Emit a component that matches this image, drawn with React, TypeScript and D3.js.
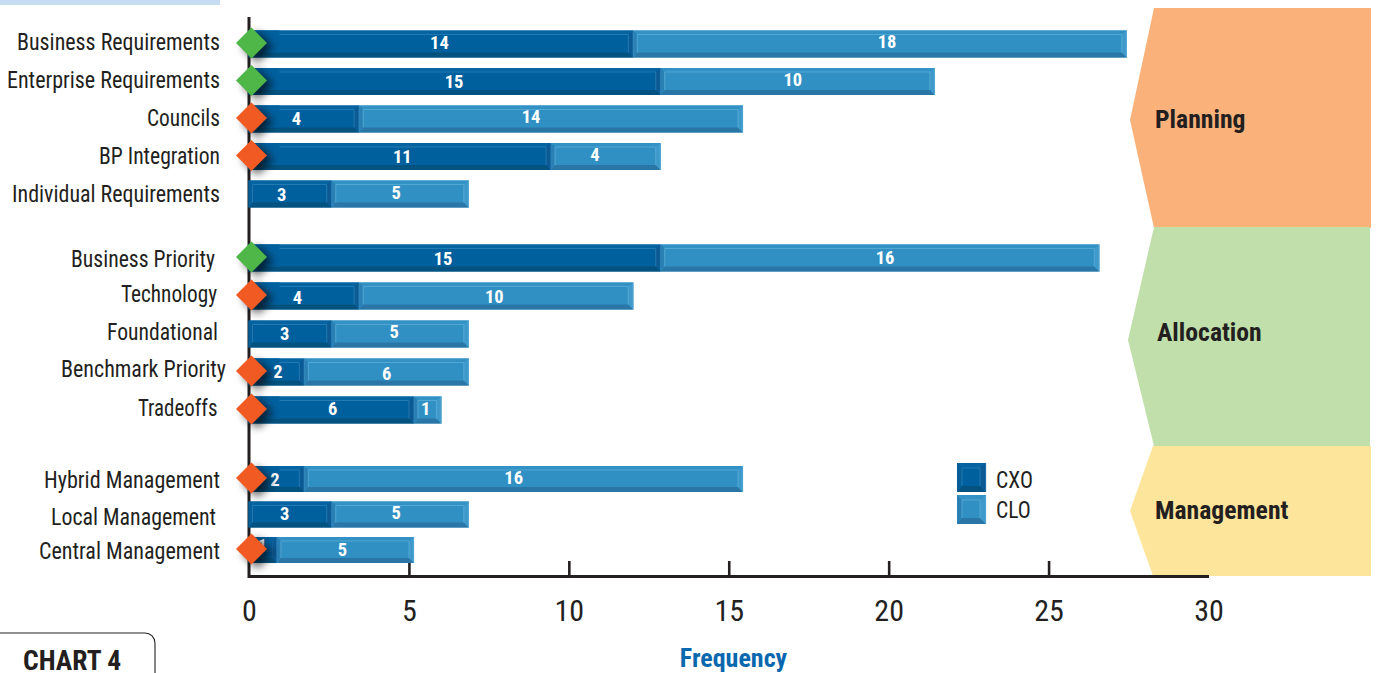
import React from "react";
import * as d3 from "d3";

const categories = [
  "Business Requirements", "Enterprise Requirements", "Councils", "BP Integration", "Individual Requirements",
  "Business Priority", "Technology", "Foundational", "Benchmark Priority", "Tradeoffs",
  "Hybrid Management", "Local Management", "Central Management",
];
const cxoValues = [14, 15, 4, 11, 3, 15, 4, 3, 2, 6, 2, 3, 1];
const cloValues = [18, 10, 14, 4, 5, 16, 10, 5, 6, 1, 16, 5, 5];
// g = green marker, o = orange marker, "" = no marker
const markers = ["g", "g", "o", "o", "", "g", "o", "", "o", "o", "o", "", "o"];
const axisTicks = [0, 5, 10, 15, 20, 25, 30];
const stageNames = ["Planning", "Allocation", "Management"];

// Hand placement of text, in pixels, kept apart from the values.
const categoryEnd = [220, 220, 220, 220, 220, 215, 217, 218, 226, 217.5, 220, 216, 220];
const categoryWidth = [203, 213, 73, 121, 208, 144, 96, 111, 165, 79.5, 176, 165, 181];
const categoryBaseline = [50, 88, 126, 164, 202, 267, 302, 340, 377, 416, 488, 525, 559];
const cxoLabelShift = [-2, -1, -8, 2, -9, -12, -7, -6, 1, 1, -2, -6, -1];
const cloLabelShift = [7, -5, -20, -11, -4, 5, -2, -6, 0, -2, -10, -4, -3];
const cxoLabelDy = [-1.5, -0.5, -1, -0.5, 0, 0, 1, -1, -1, -2, 0, -1.5, -5];
const cloLabelDy = [-3, -2.5, -3, -2.5, -2, -1, 0, -3, 1, -2, -2, -2.5, -1];

const narrow = "'Liberation Sans Narrow', 'Roboto Condensed', 'Liberation Sans', sans-serif";
const INK = "#231f20";

const CXO = { face: "#00609e", top: "#0664a2", bottom: "#04527f", left: "#075f9a", right: "#0c5a94", line: "#2a80b6" };
const CLO = { face: "#3090c4", top: "#3291c5", bottom: "#2a76a6", left: "#2a80b4", right: "#3f9acb", line: "#5badd7" };

const MARKER_FILL: Record<string, string> = { g: "#4fb648", o: "#f15a22" };

// The axis reads 0–30 while bar lengths run on a 0–35 span across the same pixels.
const axisX = d3.scaleLinear().domain([0, 30]).range([249.5, 1209]);
const barX = d3.scaleLinear().domain([0, 35]).range([249.5, 1209]);
const rowY = d3.scaleLinear().domain([0, 4, 5, 9, 10, 12]).range([44, 194, 258, 410, 479, 550]);

const pts = (p: number[][]) => p.map((q) => q.join(",")).join(" ");

type Tone = typeof CXO;

function Bevel({ x0, x1, y0, y1, tone, b = 5 }: { x0: number; x1: number; y0: number; y1: number; tone: Tone; b?: number }) {
  const t = y0 + b - 1;
  const u = y1 - b;
  const l = x0 + b - 1;
  const r = x1 - b;
  const rim = d3.line()([[l, u], [l, t], [r, t], [r, u]]) ?? "";
  return (
    <g>
      <rect x={x0} y={y0} width={x1 - x0} height={y1 - y0} fill={tone.face} />
      <polygon points={pts([[x0, y0], [x1, y0], [r, t], [l, t]])} fill={tone.top} />
      <polygon points={pts([[x0, y1], [x1, y1], [r, u], [l, u]])} fill={tone.bottom} />
      <polygon points={pts([[x0, y0], [l, t], [l, u], [x0, y1]])} fill={tone.left} />
      <polygon points={pts([[x1, y0], [r, t], [r, u], [x1, y1]])} fill={tone.right} />
      <path d={rim} fill="none" stroke={tone.line} strokeWidth={0.8} />
      <line x1={x1 - 0.3} x2={x1 - 0.3} y1={y0} y2={y1} stroke={tone.line} strokeWidth={0.7} />
    </g>
  );
}

const stagePolys = [
  { tip: [1130, 120], top: 8, bottom: 228, neck: 1154, right: 1371, fill: "#fab27a", tx: 1155, ty: 128 },
  { tip: [1128, 340], top: 227, bottom: 446, neck: 1154, right: 1370, fill: "#c1dfaa", tx: 1157, ty: 341 },
  { tip: [1130, 511], top: 446, bottom: 576, neck: 1153, right: 1371, fill: "#fee59c", tx: 1155, ty: 519 },
];

export default function App() {
  const stacked = d3.stack<number>()
    .keys(["cxo", "clo"])
    .value((i, key) => (key === "cxo" ? cxoValues[i] : cloValues[i]))(categories.map((_, i) => i));

  return (
    <svg width={1379} height={673} style={{ position: "fixed", left: 0, top: 0, background: "#fff" }}>
      <defs>
        <filter id="markerShadow" x="-80%" y="-80%" width="260%" height="260%">
          <feGaussianBlur stdDeviation={4} />
        </filter>
      </defs>

      <rect x={0} y={0} width={220} height={5} fill="#c5dcf3" />

      {stagePolys.map((s, i) => (
        <g key={stageNames[i]}>
          <polygon
            points={pts([[s.neck, s.top], [s.right, s.top], [s.right, s.bottom], [s.neck, s.bottom], s.tip])}
            fill={s.fill}
          />
          <text x={s.tx} y={s.ty} fontFamily={narrow} fontWeight={700} fontSize={25.7} fill={INK}>{stageNames[i]}</text>
        </g>
      ))}

      {/* value axis, drawn upward from the baseline */}
      <line x1={249} x2={249} y1={17} y2={578} stroke={INK} strokeWidth={3} />
      <line x1={248} x2={1209} y1={576.5} y2={576.5} stroke={INK} strokeWidth={3.2} />
      {axisTicks.map((t) => (
        <g key={t}>
          {t > 0 && t < 30 && (
            <line x1={axisX(t)} x2={axisX(t)} y1={561} y2={577} stroke={INK} strokeWidth={2.6} />
          )}
          <text x={axisX(t)} y={621} textAnchor="middle" fontFamily={narrow} fontSize={30} fill={INK}>{t}</text>
        </g>
      ))}

      {categories.map((c, i) => {
        const h = i >= 10 ? 26 : 27;
        const y0 = rowY(i) - h / 2;
        const y1 = y0 + h;
        const [a0, a1] = stacked[0][i];
        const [b0, b1] = stacked[1][i];
        const start = barX(a0) - 1;
        return (
          <g key={c}>
            <text
              x={categoryEnd[i] - categoryWidth[i]} y={categoryBaseline[i]}
              textLength={categoryWidth[i]} lengthAdjust="spacingAndGlyphs"
              fontFamily={narrow} fontSize={23.5} fill={INK}
            >{c}</text>
            <Bevel x0={start} x1={barX(a1)} y0={y0} y1={y1} tone={CXO} />
            <Bevel x0={barX(b0)} x1={barX(b1)} y0={y0} y1={y1} tone={CLO} />
            {/* the bevel rim fades out beneath a status marker */}
            {markers[i] && (
              <rect x={start} y={y0} width={Math.min(31, barX(a1) - start - 5)} height={h - 5} fill={CXO.face} />
            )}
            <text x={(barX(a0) + barX(a1)) / 2 + cxoLabelShift[i]} y={rowY(i) + cxoLabelDy[i] + 6.5} textAnchor="middle" fontFamily={narrow} fontWeight={700} fontSize={18.5} fill="#fff">{cxoValues[i]}</text>
            <text x={(barX(b0) + barX(b1)) / 2 + cloLabelShift[i]} y={rowY(i) + cloLabelDy[i] + 6.5} textAnchor="middle" fontFamily={narrow} fontWeight={700} fontSize={18.5} fill="#fff">{cloValues[i]}</text>
          </g>
        );
      })}

      {/* status markers sit over the start of each bar, with a soft shadow */}
      {categories.map((c, i) => {
        if (!markers[i]) return null;
        const mx = axisX(0) + 2;
        const my = rowY(i) - 1;
        const r = 15.5;
        const diamond = pts([[mx - r, my], [mx, my - r], [mx + r, my], [mx, my + r]]);
        return (
          <g key={c}>
            <polygon points={diamond} transform="translate(6 4)" fill="#000" opacity={0.65} filter="url(#markerShadow)" />
            <polygon points={diamond} fill={MARKER_FILL[markers[i]]} />
          </g>
        );
      })}

      <Bevel x0={957} x1={986} y0={463} y1={492} tone={CXO} b={6} />
      <Bevel x0={957} x1={986} y0={495} y1={524} tone={CLO} b={6} />
      <text transform="translate(996 488) scale(0.9 1)" fontFamily={narrow} fontSize={24} fill={INK}>CXO</text>
      <text transform="translate(996 518) scale(0.9 1)" fontFamily={narrow} fontSize={24} fill={INK}>CLO</text>

      <text x={733.5} y={667} textAnchor="middle" fontFamily={narrow} fontWeight={700} fontSize={26} fill="#0b68ae">Frequency</text>

      <path d="M-2,633 H145 a10,10 0 0 1 10,10 V675" fill="none" stroke={INK} strokeWidth={1.1} />
      <text x={23} y={670} fontFamily={narrow} fontWeight={700} fontSize={27.5} fill={INK}>CHART 4</text>
    </svg>
  );
}
